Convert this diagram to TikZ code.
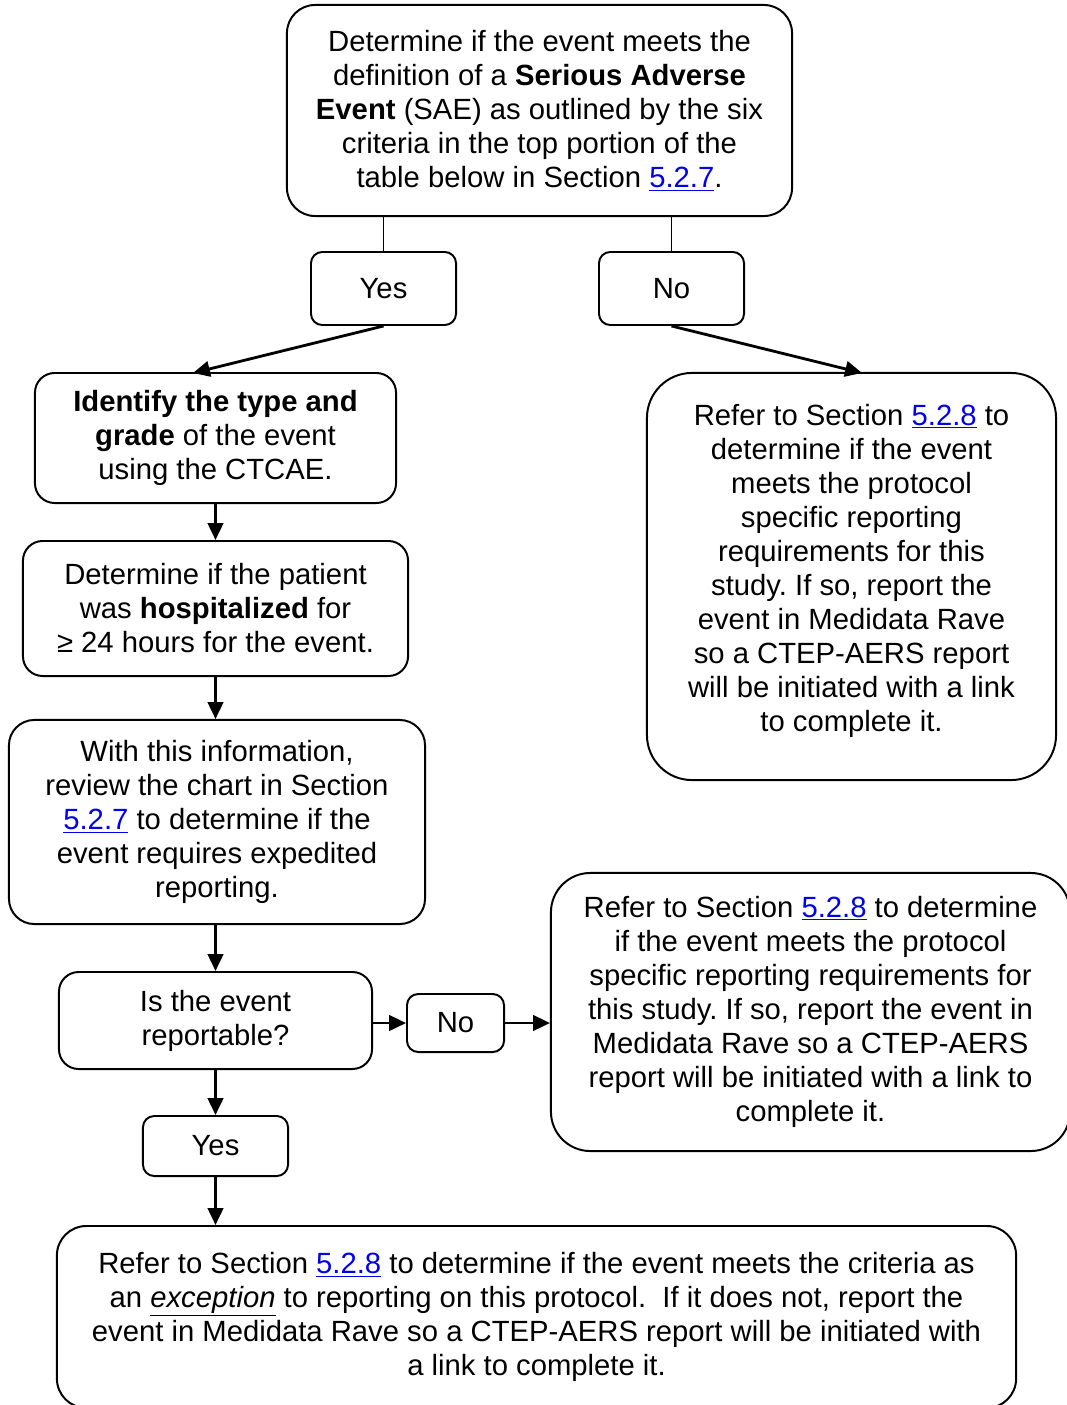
\documentclass[tikz,border=0pt]{standalone}
\usepackage{fontspec}
\setmainfont{Liberation Sans}
\usetikzlibrary{positioning,calc,arrows.meta}
\definecolor{linkblue}{RGB}{0,0,238}
\newcommand{\seclink}[1]{\textcolor{linkblue}{\underline{#1}}}
\frenchspacing

\begin{document}
\begin{tikzpicture}[x=0.025cm,y=-0.025cm]
\tikzset{
  box/.style={draw=black, line width=1.4pt, fill=white, rounded corners=#1, align=center, inner sep=0pt, font=\fontsize{20.8}{24.2}\selectfont},
  box/.default=14pt,
  flow/.style={draw=black, line width=2pt, -{Triangle[length=12pt,width=11pt]}},
  link/.style={draw=black, line width=1.2pt}
}
\useasboundingbox (0,0) rectangle (1066,1405);
\node[box=20pt, minimum width=12.625cm, minimum height=5.275cm] (sae) at (539.5,110.5)
  {Determine if the event meets the\\definition of a \textbf{Serious Adverse}\\\textbf{Event} (SAE) as outlined by the six\\criteria in the top portion of the\\table below in Section \seclink{5.2.7}.};
\node[box=8pt, minimum width=3.625cm, minimum height=1.825cm] (yes1) at (383.5,288.5) {Yes};
\node[box=8pt, minimum width=3.625cm, minimum height=1.825cm] (no1) at (671.5,288.5) {No};
\node[box, minimum width=9.025cm, minimum height=3.25cm] (ident) at (215.5,438)
  {\textbf{Identify the type and}\\\textbf{grade} of the event\\using the CTCAE.};
\node[box, minimum width=9.625cm, minimum height=3.375cm] (hosp) at (215.5,608.5)
  {Determine if the patient\\was \textbf{hospitalized} for\\≥ 24 hours for the event.};
\node[box=18pt, minimum width=10.4cm, minimum height=5.1cm] (review) at (217,822)
  {With this information,\\review the chart in Section\\\seclink{5.2.7} to determine if the\\event requires expedited\\reporting.};
\node[box, minimum width=7.825cm, minimum height=2.425cm] (report) at (215.5,1020.5)
  {Is the event\\reportable?};
\node[box=8pt, minimum width=2.425cm, minimum height=1.45cm] (no2) at (455.5,1023) {No};
\node[box=28pt, minimum width=12.975cm, minimum height=6.95cm] (sec528b) at (810.5,1012)
  {Refer to Section \seclink{5.2.8} to determine\\if the event meets the protocol\\specific reporting requirements for\\this study. If so, report the event in\\Medidata Rave so a CTEP-AERS\\report will be initiated with a link to\\complete it.};
\node[box=8pt, minimum width=3.625cm, minimum height=1.5cm] (yes2) at (215.5,1146) {Yes};
\node[box=21pt, minimum width=23.975cm, minimum height=4.55cm] (final) at (536.5,1317)
  {Refer to Section \seclink{5.2.8} to determine if the event meets the criteria as\\an \underline{\textit{exception}} to reporting on this protocol.\ \ If it does not, report the\\event in Medidata Rave so a CTEP-AERS report will be initiated with\\a link to complete it.};
\node[box=32pt, minimum width=10.225cm, minimum height=10.175cm] (sec528a) at (851.5,576.5)
  {\raisebox{0pt}[\height][0pt]{}Refer to Section \seclink{5.2.8} to\\determine if the event\\meets the protocol\\specific reporting\\requirements for this\\study. If so, report the\\event in Medidata Rave\\so a CTEP-AERS report\\will be initiated with a link\\to complete it.\\[-12pt]\mbox{}};
\coordinate (identin) at (193,373);
\coordinate (sec528in) at (862,373);
\draw[link] (sae.south -| yes1.north) -- (yes1.north);
\draw[link] (sae.south -| no1.north) -- (no1.north);
\draw[flow] (yes1.south) -- (identin);
\draw[flow] (no1.south) -- (sec528in);
\draw[flow] (ident.south) -- (hosp.north);
\draw[flow] (hosp.south) -- (hosp.south |- review.north);
\draw[flow] (review.south -| report.north) -- (report.north);
\draw[flow] (report.east |- no2.west) -- (no2.west);
\draw[flow] (no2.east) -- (no2.east -| sec528b.west);
\draw[flow] (report.south) -- (yes2.north);
\draw[flow] (yes2.south) -- (yes2.south |- final.north);
\end{tikzpicture}
\end{document}
